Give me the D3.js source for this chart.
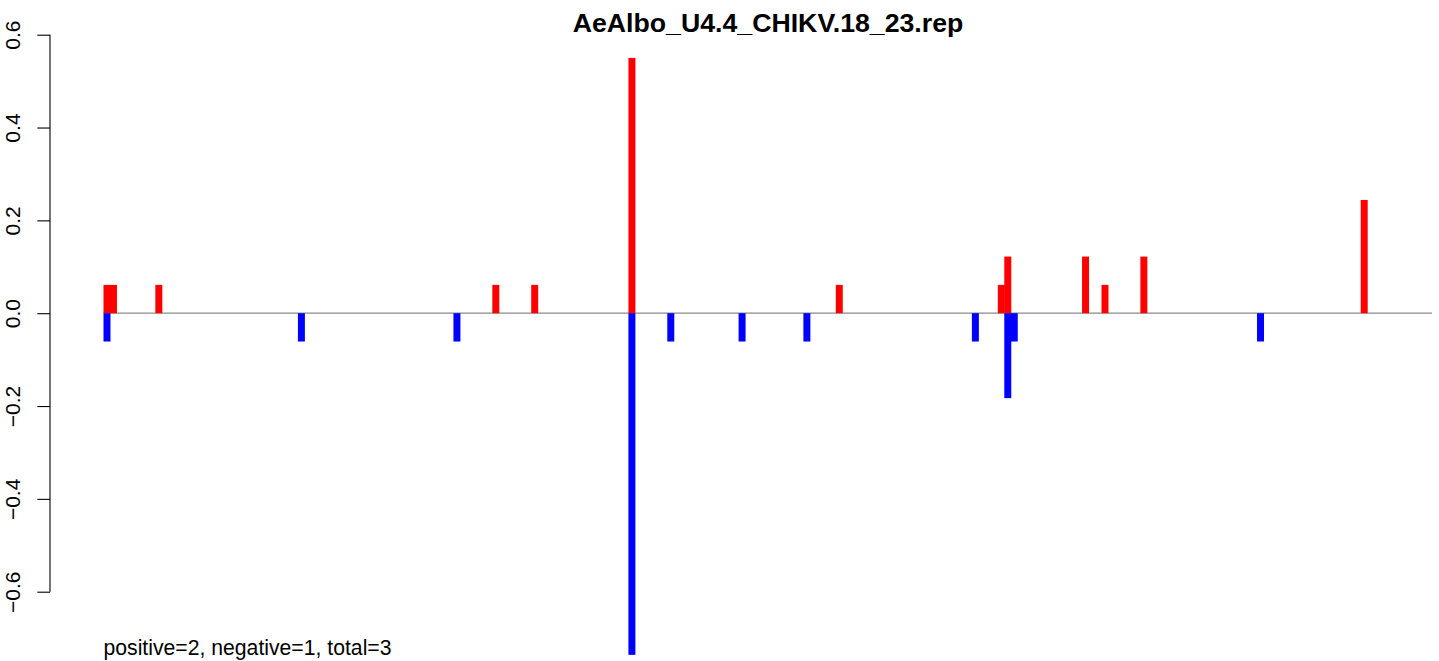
<!DOCTYPE html>
<html>
<head>
<meta charset="utf-8">
<script src="https://cdn.jsdelivr.net/npm/d3@7"></script>
<style>
  html, body { margin: 0; padding: 0; background: #fff; }
  svg { display: block; }
  text { font-family: "Liberation Sans", Arial, Helvetica, sans-serif; }
</style>
</head>
<body>
<div id="chart"></div>
<script>
// ---- data ----
const title = "AeAlbo_U4.4_CHIKV.18_23.rep";
const footnote = "positive=2, negative=1, total=3";
const positionCount = 205;
const positiveIndex = [0, 1, 8, 60, 66, 81, 113, 138, 139, 151, 154, 160, 194];
const positiveValue = [0.061, 0.061, 0.061, 0.061, 0.061, 0.55, 0.061, 0.061, 0.122, 0.122, 0.061, 0.122, 0.244];
const negativeIndex = [0, 30, 54, 81, 87, 98, 108, 134, 139, 140, 178];
const negativeValue = [-0.061, -0.061, -0.061, -0.736, -0.061, -0.061, -0.061, -0.061, -0.183, -0.061, -0.061];
const yTicks = [-0.6, -0.4, -0.2, 0.0, 0.2, 0.4, 0.6];

// ---- layout ----
const W = 1439, H = 661;
const svg = d3.select("#chart").append("svg").attr("width", W).attr("height", H);

const x = d3.scaleLinear().domain([0, positionCount]).range([103.5, 1432]);
const y = d3.scaleLinear().domain([-0.6, 0.6]).range([591.7, 34.7]);
const slot = x(1) - x(0);

// zero line
svg.append("line")
  .attr("x1", x(0)).attr("x2", x(positionCount))
  .attr("y1", y(0)).attr("y2", y(0))
  .attr("stroke", "#8a8a8a").attr("stroke-width", 1.2);

const pos = positiveIndex.map((i, k) => ({ i, v: positiveValue[k] }));
const neg = negativeIndex.map((i, k) => ({ i, v: negativeValue[k] }));

svg.append("g").selectAll("rect").data(pos).join("rect")
  .attr("x", d => x(d.i))
  .attr("width", slot + 0.5)
  .attr("y", d => y(d.v))
  .attr("height", d => y(0) - y(d.v))
  .attr("fill", "#ff0000");

svg.append("g").selectAll("rect").data(neg).join("rect")
  .attr("x", d => x(d.i))
  .attr("width", slot + 0.5)
  .attr("y", y(0))
  .attr("height", d => y(d.v) - y(0))
  .attr("fill", "#0000ff");

// y axis
const yAxis = d3.axisLeft(y).tickValues(yTicks).tickSize(12.7).tickPadding(0)
  .tickFormat(d3.format(".1f"));
const gy = svg.append("g").attr("transform", "translate(50,0)").call(yAxis);
gy.select(".domain").attr("d", `M0,${y(0.6)}V${y(-0.6)}`).attr("stroke", "#000").attr("stroke-width", 1.1);
gy.selectAll(".tick line").attr("stroke", "#000").attr("stroke-width", 1.1);
gy.selectAll(".tick text")
  .attr("x", null).attr("dy", null)
  .attr("transform", "translate(-30.5,0) rotate(-90)")
  .attr("text-anchor", "middle")
  .attr("font-size", 21)
  .attr("font-family", "'Liberation Sans', Arial, sans-serif")
  .attr("fill", "#000")
  .text(d => d < 0 ? "\u2212" + d3.format(".1f")(-d) : d3.format(".1f")(d));

// title
svg.append("text")
  .attr("x", 768).attr("y", 31.7)
  .attr("text-anchor", "middle")
  .attr("font-size", 26.7)
  .attr("font-weight", "bold")
  .text(title);

// footnote
svg.append("text")
  .attr("x", 103.5).attr("y", 655)
  .attr("font-size", 21.2)
  .text(footnote);
</script>
</body>
</html>
